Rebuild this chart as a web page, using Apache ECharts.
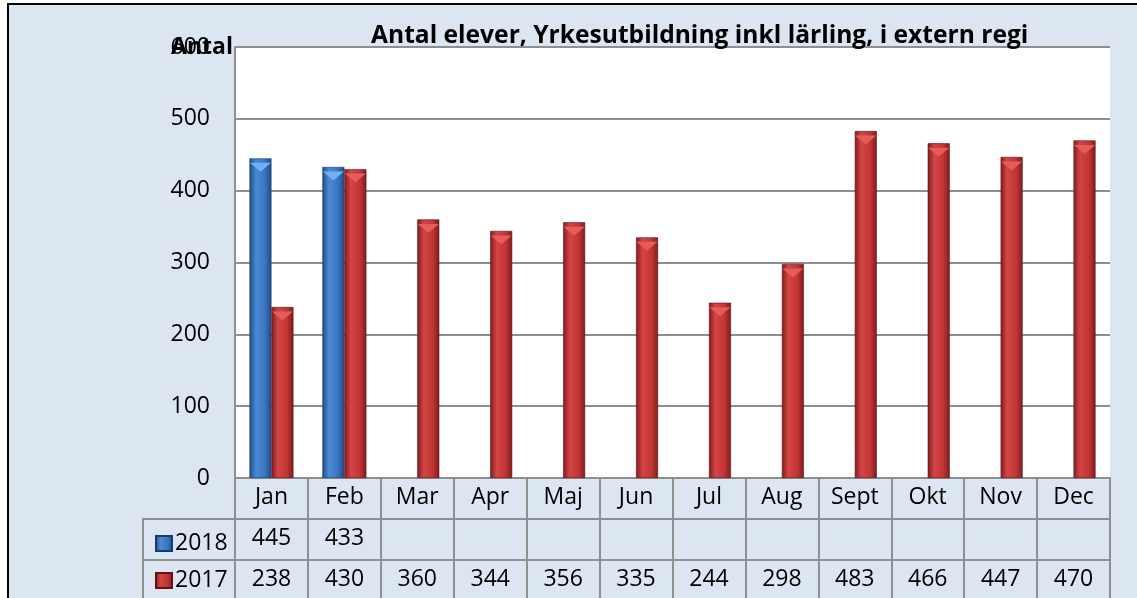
<!DOCTYPE html>
<html>
<head>
<meta charset="utf-8">
<script src="https://cdn.jsdelivr.net/npm/echarts@6/dist/echarts.min.js"></script>
<style>
  html, body { margin: 0; padding: 0; background: #fff; }
  #main { width: 1137px; height: 598px; }
</style>
</head>
<body>
<div id="main"></div>
<script>
const months = ["Jan", "Feb", "Mar", "Apr", "Maj", "Jun", "Jul", "Aug", "Sept", "Okt", "Nov", "Dec"]
const s2018 = [445, 433, null, null, null, null, null, null, null, null, null, null]
const s2017 = [238, 430, 360, 344, 356, 335, 244, 298, 483, 466, 447, 470]
const yTicks = [0, 100, 200, 300, 400, 500, 600]

const font = "Open Sans"
const lineGray = "#8f8f8f"
const fs = 23

/* horisontell gradient för cylinderlook */
function barGrad(edge, mid, light) {
  return new echarts.graphic.LinearGradient(0, 0, 1, 0, [
    { offset: 0, color: edge },
    { offset: 0.3, color: light },
    { offset: 0.7, color: mid },
    { offset: 1, color: edge }
  ])
}

const blue = barGrad("#1f4a85", "#3a76c0", "#4a8ad6")
const red = barGrad("#801c1c", "#c23535", "#d44545")

const chart = echarts.init(document.getElementById("main"))

const tableAxis = (offset, values) => ({
  type: "category",
  data: months,
  position: "bottom",
  offset: offset,
  axisLine: { show: true, lineStyle: { color: lineGray, width: 2 } },
  axisTick: { show: false },
  axisLabel: {
    margin: 8,
    fontSize: fs,
    fontFamily: font,
    color: "#000",
    formatter: (v, i) => (values[i] == null ? "" : String(values[i]))
  }
})

/* pyramidtopp ovanpå staplarna */
const topCap = (name, data, dx, color) => ({
  name: name,
  type: "pictorialBar",
  xAxisIndex: 0,
  data: data,
  symbol: "triangle",
  symbolRotate: 180,
  symbolSize: [21, 9],
  symbolPosition: "end",
  symbolOffset: [dx, "50%"],
  z: 3,
  itemStyle: { color: color },
  tooltip: { show: false }
})

chart.setOption({
  backgroundColor: "#fff",
  animation: false,
  textStyle: { fontFamily: font },
  graphic: [
    {
      type: "rect",
      z: -10,
      shape: { x: 8, y: 4, width: 1300, height: 800 },
      style: { fill: "#dce6f2", stroke: "#000", lineWidth: 2 }
    },
    {
      type: "polyline",
      z: 5,
      shape: { points: [[235, 519], [143, 519], [143, 640]] },
      style: { stroke: lineGray, lineWidth: 2, fill: null }
    },
    {
      type: "line",
      z: 5,
      shape: { x1: 143, y1: 560, x2: 235, y2: 560 },
      style: { stroke: lineGray, lineWidth: 2 }
    }
  ],
  title: {
    text: "Antal elever, Yrkesutbildning inkl lärling, i extern regi",
    left: 366,
    top: 18,
    textStyle: { fontFamily: font, fontSize: 24.6, fontWeight: "bold", color: "#000" }
  },
  legend: {
    data: ["2018", "2017"],
    orient: "vertical",
    left: 150,
    top: 527,
    itemWidth: 16,
    itemHeight: 15,
    itemGap: 14,
    icon: "rect",
    textStyle: { fontFamily: font, fontSize: fs, color: "#000", padding: [0, 0, 0, -2] }
  },
  grid: {
    left: 235,
    right: 27,
    top: 47,
    bottom: 120,
    show: true,
    backgroundColor: "#fff",
    borderWidth: 0
  },
  xAxis: [
    {
      type: "category",
      data: months,
      position: "bottom",
      axisLine: { show: true, lineStyle: { color: lineGray, width: 2 } },
      axisTick: { show: true, length: 130, lineStyle: { color: lineGray, width: 2 } },
      axisLabel: { margin: 8, fontSize: fs, fontFamily: font, color: "#000" }
    },
    tableAxis(41, s2018),
    tableAxis(82, s2017)
  ],
  yAxis: {
    type: "value",
    min: yTicks[0],
    max: yTicks[yTicks.length - 1],
    interval: 100,
    name: "Antal",
    nameLocation: "end",
    nameGap: 0,
    nameMoveOverlap: false,
    nameTextStyle: {
      align: "right",
      verticalAlign: "middle",
      fontFamily: font,
      fontSize: fs,
      fontWeight: "bold",
      color: "#000",
      padding: [0, 2, 0, 0]
    },
    axisLine: { show: true, lineStyle: { color: lineGray, width: 2 } },
    axisTick: { show: false },
    axisLabel: { margin: 25, fontSize: fs, fontFamily: font, color: "#000" },
    splitLine: { lineStyle: { color: lineGray, width: 2 } }
  },
  series: [
    {
      name: "2018",
      type: "bar",
      xAxisIndex: 0,
      data: s2018,
      barWidth: 22,
      barGap: "0%",
      itemStyle: { color: blue, borderColor: "#183a6a", borderWidth: 0.6 }
    },
    {
      name: "2017",
      type: "bar",
      xAxisIndex: 0,
      data: s2017,
      barWidth: 22,
      itemStyle: { color: red, borderColor: "#5e1212", borderWidth: 0.6 }
    },
    topCap("2018 topp", s2018, -11, "#72b0f2"),
    topCap("2017 topp", s2017, 11, "#e65c5a")
  ]
})
</script>
</body>
</html>
